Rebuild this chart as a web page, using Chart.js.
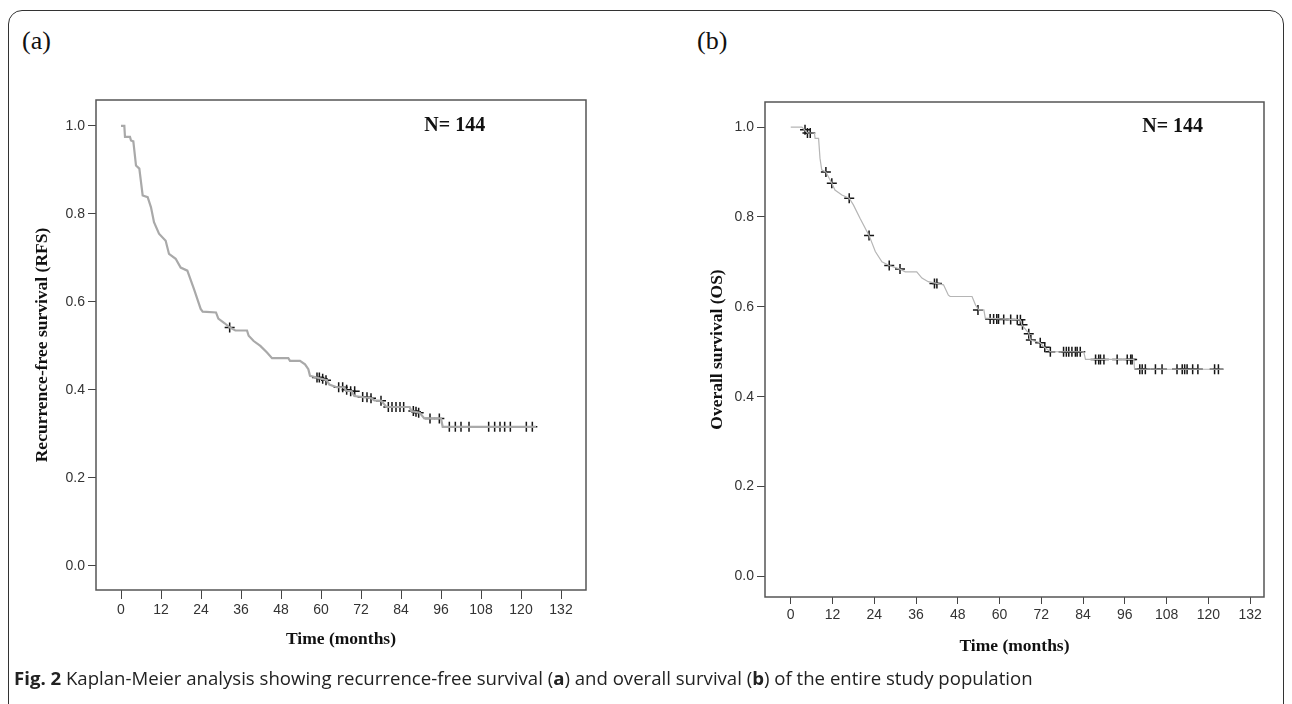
<!DOCTYPE html>
<html>
<head>
  <meta charset="utf-8">
  <title>Kaplan-Meier analysis</title>
  <script src="https://cdn.jsdelivr.net/npm/chart.js@4.4.1/dist/chart.umd.min.js"></script>
  <style>
    body {
      margin: 0;
      width: 1292px;
      height: 704px;
      overflow: hidden;
      background: #fff;
      position: relative;
    }
    #frame {
      position: absolute;
      left: 8px;
      top: 10px;
      width: 1274px;
      height: 730px;
      border: 1.5px solid #333;
      border-radius: 14px;
    }
    .panel {
      position: absolute;
      font-family: "Liberation Serif", serif;
      font-size: 26px;
      color: #111;
    }
    canvas {
      position: absolute;
    }
    #caption {
      position: absolute;
      left: 14px;
      top: 665px;
      font-family: "Open Sans", sans-serif;
      font-size: 18.6px;
      color: #222;
      white-space: nowrap;
    }
  </style>
</head>
<body>
  <div id="frame"></div>
  <div class="panel" style="left:22px; top:26px;">(a)</div>
  <div class="panel" style="left:697px; top:26px;">(b)</div>

  <canvas id="rfsChart" width="640" height="600" style="left:0px; top:80px;"></canvas>
  <canvas id="osChart" width="652" height="600" style="left:640px; top:80px;"></canvas>

  <div id="caption"><b>Fig. 2</b> Kaplan-Meier analysis showing recurrence-free survival (<b>a</b>) and overall survival (<b>b</b>) of the entire study population</div>

  <script>
    // tick values shared by both panels
    var xTicks = [0, 12, 24, 36, 48, 60, 72, 84, 96, 108, 120, 132];
    var yTicks = [0.0, 0.2, 0.4, 0.6, 0.8, 1.0];

    // (a) recurrence-free survival, curve
    var rfsTime = [0, 1.0, 1.2, 2.7, 3.0, 3.7, 4.5, 5.5, 6.5, 8.0, 9.0, 9.9, 11.4, 13.4, 14.4, 16.4, 17.9, 19.9,
      21.9, 23.9, 24.5, 28.5, 29.2, 31.0, 32.6, 34.3, 37.8, 38.3, 39.8, 41.8, 43.8, 45.3, 50.2, 50.7, 53.7, 55.2,
      56.2, 56.7, 58.7, 61.7, 62.5, 64.7, 67.0, 67.5, 69.2, 70.0, 75.1, 76.0, 78.1, 79.6, 86.6, 87.1, 89.6, 91.0,
      96.0, 96.5, 124.5];
    var rfsSurv = [1.0, 1.0, 0.975, 0.975, 0.967, 0.965, 0.910, 0.903, 0.842, 0.838, 0.815, 0.781, 0.755, 0.739, 0.709, 0.698, 0.678, 0.671,
      0.629, 0.584, 0.578, 0.576, 0.562, 0.552, 0.542, 0.535, 0.535, 0.523, 0.511, 0.500, 0.485, 0.472, 0.472, 0.466, 0.466, 0.458,
      0.447, 0.432, 0.428, 0.422, 0.412, 0.406, 0.406, 0.398, 0.397, 0.386, 0.381, 0.376, 0.375, 0.361, 0.361, 0.352, 0.348, 0.335,
      0.335, 0.316, 0.316];
    var rfsCensTime = [32.6, 58.8, 59.5, 60.5, 61.5, 65.3, 66.5, 67.7, 68.9, 70.1, 72.5, 73.8, 75.0, 78.0,
      80.2, 81.3, 82.5, 83.7, 84.8, 87.7, 88.5, 89.3, 92.7, 95.5,
      98.5, 100.3, 102.0, 104.4, 110.3, 112.1, 113.7, 115.1, 116.8, 121.6, 123.4];
    var rfsCensSurv = [0.542, 0.428, 0.428, 0.425, 0.422, 0.406, 0.406, 0.400, 0.397, 0.397, 0.384, 0.383, 0.381, 0.375,
      0.361, 0.361, 0.361, 0.361, 0.361, 0.352, 0.350, 0.348, 0.335, 0.335,
      0.316, 0.316, 0.316, 0.316, 0.316, 0.316, 0.316, 0.316, 0.316, 0.316, 0.316];

    // (b) overall survival
    var osTime = [0, 3.2, 4.0, 4.8, 6.8, 7.0, 8.0, 8.4, 8.9, 10.1, 11.8, 12.7, 14.7, 16.8, 18.0, 19.9, 22.5, 24.3,
      26.2, 28.3, 31.4, 32.9, 36.2, 37.7, 39.5, 43.9, 45.3, 45.8, 52.1, 53.1, 54.0, 55.5, 55.9, 66.0, 66.4, 68.4,
      68.9, 71.7, 72.7, 74.6, 84.2, 84.7, 98.6, 98.8, 124.5];
    var osSurv = [1.0, 1.0, 0.994, 0.987, 0.987, 0.975, 0.975, 0.931, 0.905, 0.900, 0.875, 0.860, 0.849, 0.842, 0.827, 0.797, 0.759, 0.723,
      0.700, 0.692, 0.684, 0.678, 0.678, 0.664, 0.656, 0.649, 0.626, 0.623, 0.623, 0.604, 0.593, 0.593, 0.575, 0.571, 0.560, 0.541,
      0.526, 0.520, 0.511, 0.500, 0.500, 0.483, 0.483, 0.461, 0.461];
    var osCensTime = [4.1, 4.8, 5.6, 10.1, 11.8, 16.8, 22.5, 28.3, 31.4, 41.3, 42.0, 53.8,
      57.3, 58.3, 59.2, 59.7, 61.2, 63.2, 65.1, 66.0, 66.6, 68.4, 69.0, 71.7, 73.0,
      74.6, 78.4, 79.2, 79.9, 80.8, 81.8, 82.3, 83.2,
      87.6, 88.5, 89.0, 90.0, 93.8, 96.7, 97.7, 98.1,
      100.3, 101.0, 101.9, 104.8, 106.7, 111.0, 112.5, 113.2, 113.9, 115.5, 117.0, 121.8, 122.9];
    var osCensSurv = [0.994, 0.987, 0.987, 0.900, 0.875, 0.842, 0.759, 0.692, 0.684, 0.652, 0.652, 0.593,
      0.573, 0.573, 0.573, 0.573, 0.572, 0.572, 0.571, 0.571, 0.560, 0.540, 0.526, 0.520, 0.510,
      0.500, 0.500, 0.500, 0.500, 0.500, 0.500, 0.500, 0.500,
      0.483, 0.483, 0.483, 0.483, 0.483, 0.483, 0.483, 0.483,
      0.461, 0.461, 0.461, 0.461, 0.461, 0.461, 0.461, 0.461, 0.461, 0.461, 0.461, 0.461, 0.461];

    function toPoints(xs, ys) {
      return xs.map(function (x, i) { return { x: x, y: ys[i] }; });
    }

    // box around the plot area and the "N=" note
    var plotBox = {
      id: 'plotBox',
      afterDatasetsDraw: function (chart, args, opts) {
        var a = chart.chartArea;
        var ctx = chart.ctx;
        ctx.save();
        ctx.strokeStyle = '#555';
        ctx.lineWidth = 1.5;
        ctx.strokeRect(a.left, a.top, a.right - a.left, a.bottom - a.top);
        ctx.fillStyle = '#111';
        ctx.font = 'bold 20px "Liberation Serif"';
        ctx.textBaseline = 'middle';
        ctx.fillText(opts.text, chart.scales.x.getPixelForValue(opts.x), chart.scales.y.getPixelForValue(opts.y));
        ctx.restore();
      }
    };

    function makeChart(id, cfg) {
      var ctx = document.getElementById(id).getContext('2d');
      return new Chart(ctx, {
        type: 'scatter',
        data: {
          datasets: [
            {
              data: toPoints(cfg.time, cfg.surv),
              showLine: true,
              borderColor: cfg.lineColor,
              borderWidth: cfg.lineWidth,
              pointRadius: 0,
              tension: 0
            },
            {
              data: toPoints(cfg.censTime, cfg.censSurv),
              showLine: false,
              pointStyle: 'cross',
              pointRadius: 5,
              borderColor: '#151515',
              borderWidth: 1.5
            }
          ]
        },
        options: {
          responsive: false,
          animation: false,
          layout: { padding: cfg.padding },
          plugins: {
            legend: { display: false },
            tooltip: { enabled: false },
            plotBox: { text: 'N= 144', x: cfg.noteX, y: 1.0 }
          },
          scales: {
            x: {
              type: 'linear',
              min: cfg.xMin,
              max: cfg.xMax,
              afterBuildTicks: function (s) { s.ticks = xTicks.map(function (v) { return { value: v }; }); },
              afterFit: function (s) { s.height = cfg.xHeight; },
              grid: { drawOnChartArea: false, drawTicks: true, tickLength: cfg.xTickLen, color: '#444' },
              border: { display: false },
              ticks: { color: '#333', font: { family: 'Liberation Sans', size: 14 }, maxRotation: 0, padding: 3 },
              title: {
                display: true,
                text: 'Time (months)',
                color: '#111',
                padding: 0,
                font: { family: 'Liberation Serif', size: 17.5, weight: 'bold' }
              }
            },
            y: {
              min: cfg.yMin,
              max: cfg.yMax,
              afterBuildTicks: function (s) { s.ticks = yTicks.map(function (v) { return { value: v }; }); },
              afterFit: function (s) { s.width = cfg.yWidth; },
              grid: { drawOnChartArea: false, drawTicks: true, tickLength: 8, color: '#444' },
              border: { display: false },
              ticks: {
                color: '#333',
                font: { family: 'Liberation Sans', size: 14 },
                padding: 3,
                callback: function (v) { return v.toFixed(1); }
              },
              title: {
                display: true,
                text: cfg.yTitle,
                color: '#111',
                padding: 0,
                font: { family: 'Liberation Serif', size: 17.5, weight: 'bold' }
              }
            }
          }
        },
        plugins: [plotBox]
      });
    }

    makeChart('rfsChart', {
      time: rfsTime, surv: rfsSurv, censTime: rfsCensTime, censSurv: rfsCensSurv,
      lineColor: '#a9a9a9', lineWidth: 2.2,
      xMin: -7.5, xMax: 139.5, yMin: -0.055, yMax: 1.059,
      padding: { left: 32, top: 20, right: 54, bottom: 30 },
      yWidth: 64, xHeight: 60, xTickLen: 9, noteX: 91,
      yTitle: 'Recurrence-free survival (RFS)'
    });

    makeChart('osChart', {
      time: osTime, surv: osSurv, censTime: osCensTime, censSurv: osCensSurv,
      lineColor: '#b5b5b5', lineWidth: 1.2,
      xMin: -7.4, xMax: 136, yMin: -0.046, yMax: 1.056,
      padding: { left: 67, top: 22, right: 28, bottom: 23 },
      yWidth: 58, xHeight: 60, xTickLen: 7, noteX: 101,
      yTitle: 'Overall survival (OS)'
    });
  </script>
</body>
</html>
